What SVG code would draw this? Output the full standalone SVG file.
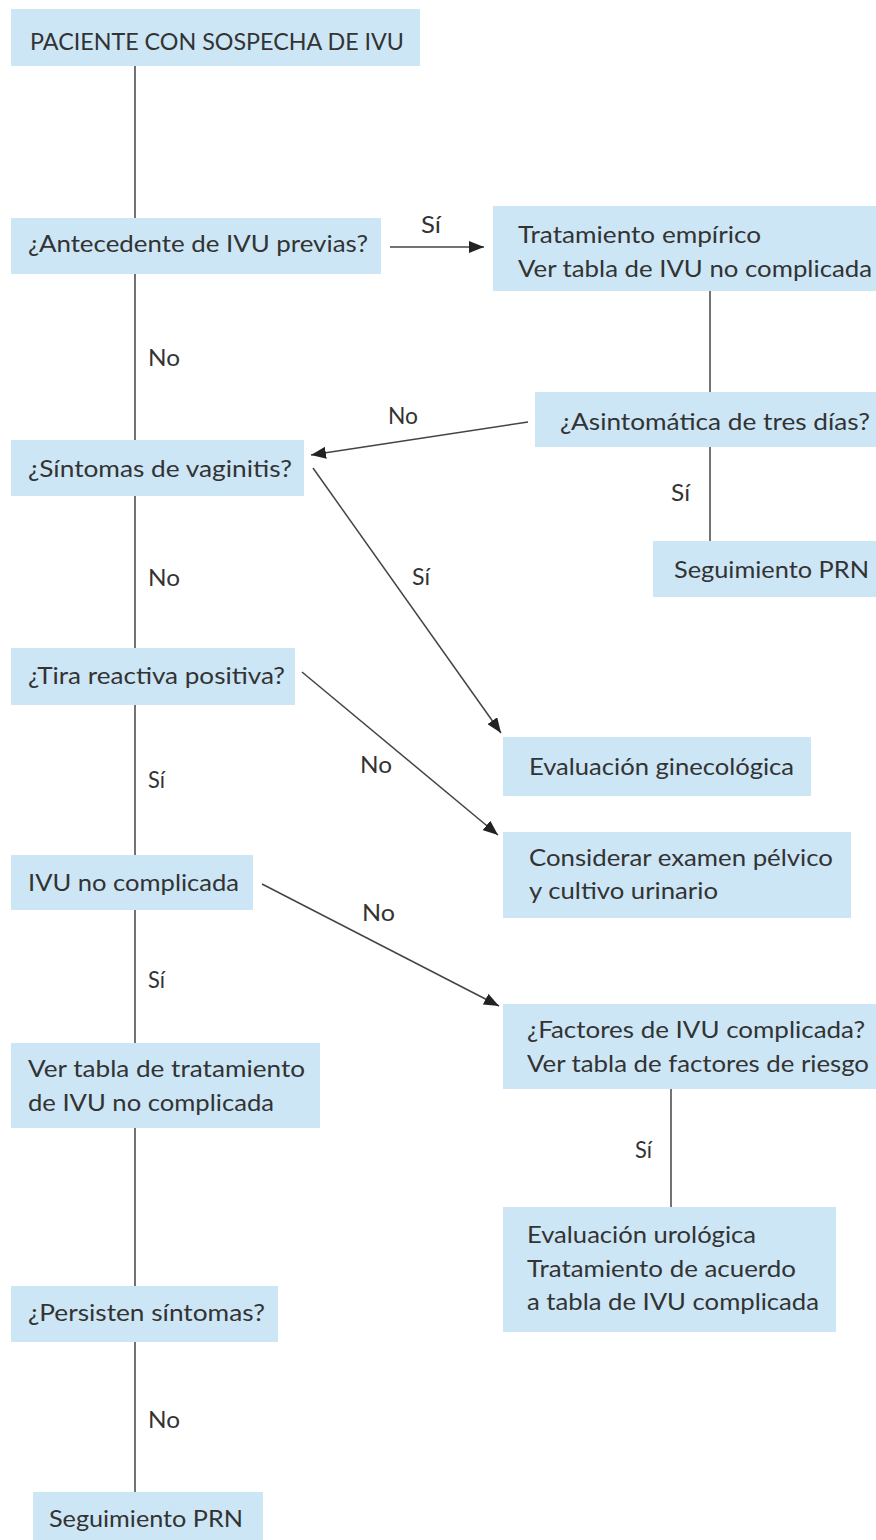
<svg xmlns="http://www.w3.org/2000/svg" width="876" height="1540" viewBox="0 0 876 1540">
<defs>
<style>
.box{fill:#cce6f6;}
.t{font-family:Lato,"Open Sans","Liberation Sans",sans-serif;font-size:23px;fill:#333;}
.ln{stroke:#444;stroke-width:1.5;fill:none;}
</style>
<marker id="ah" markerUnits="userSpaceOnUse" markerWidth="16" markerHeight="12" refX="15" refY="6" orient="auto">
<path d="M0,0 L15,6 L0,12 Z" fill="#222"/>
</marker>
</defs>
<rect width="876" height="1540" fill="#fff"/>
<g id="connectors">
<line class="ln" x1="135" y1="66" x2="135" y2="218"/>
<line class="ln" x1="135" y1="274" x2="135" y2="440"/>
<line class="ln" x1="135" y1="496" x2="135" y2="648"/>
<line class="ln" x1="135" y1="705" x2="135" y2="855"/>
<line class="ln" x1="135" y1="910" x2="135" y2="1043"/>
<line class="ln" x1="135" y1="1128" x2="135" y2="1286"/>
<line class="ln" x1="135" y1="1342" x2="135" y2="1492"/>
<line class="ln" x1="710" y1="291" x2="710" y2="392"/>
<line class="ln" x1="710" y1="447" x2="710" y2="541"/>
<line class="ln" x1="671" y1="1089" x2="671" y2="1207"/>
<line class="ln" x1="390" y1="247" x2="484" y2="247" marker-end="url(#ah)"/>
<line class="ln" x1="528" y1="422" x2="311" y2="455" marker-end="url(#ah)"/>
<line class="ln" x1="313" y1="468" x2="501" y2="733" marker-end="url(#ah)"/>
<line class="ln" x1="302" y1="672" x2="498" y2="835" marker-end="url(#ah)"/>
<line class="ln" x1="262" y1="884" x2="499" y2="1006" marker-end="url(#ah)"/>
<text class="t" x="421" y="233" textLength="20" lengthAdjust="spacingAndGlyphs">Sí</text>
<text class="t" x="148" y="366" textLength="32" lengthAdjust="spacingAndGlyphs">No</text>
<text class="t" x="388" y="424" textLength="30" lengthAdjust="spacingAndGlyphs">No</text>
<text class="t" x="671" y="501" textLength="19" lengthAdjust="spacingAndGlyphs">Sí</text>
<text class="t" x="148" y="586" textLength="32" lengthAdjust="spacingAndGlyphs">No</text>
<text class="t" x="412" y="585" textLength="18" lengthAdjust="spacingAndGlyphs">Sí</text>
<text class="t" x="360" y="773" textLength="32" lengthAdjust="spacingAndGlyphs">No</text>
<text class="t" x="148" y="788" textLength="17" lengthAdjust="spacingAndGlyphs">Sí</text>
<text class="t" x="362" y="921" textLength="33" lengthAdjust="spacingAndGlyphs">No</text>
<text class="t" x="148" y="988" textLength="17" lengthAdjust="spacingAndGlyphs">Sí</text>
<text class="t" x="635" y="1158" textLength="17" lengthAdjust="spacingAndGlyphs">Sí</text>
<text class="t" x="148" y="1428" textLength="32" lengthAdjust="spacingAndGlyphs">No</text>
</g>
<g id="n1"><rect class="box" x="11" y="9" width="409" height="57"/>
<text class="t" x="30" y="50" textLength="374" lengthAdjust="spacingAndGlyphs">PACIENTE CON SOSPECHA DE IVU</text></g>
<g id="n2"><rect class="box" x="11" y="218" width="370" height="56"/>
<text class="t" x="28" y="252" textLength="340" lengthAdjust="spacingAndGlyphs">¿Antecedente de IVU previas?</text></g>
<g id="n3"><rect class="box" x="493" y="206" width="383" height="85"/>
<text class="t" x="518" y="243" textLength="243" lengthAdjust="spacingAndGlyphs">Tratamiento empírico</text>
<text class="t" x="518" y="277" textLength="354" lengthAdjust="spacingAndGlyphs">Ver tabla de IVU no complicada</text></g>
<g id="n4"><rect class="box" x="535" y="392" width="341" height="55"/>
<text class="t" x="560" y="430" textLength="310" lengthAdjust="spacingAndGlyphs">¿Asintomática de tres días?</text></g>
<g id="n5"><rect class="box" x="653" y="541" width="223" height="56"/>
<text class="t" x="674" y="578" textLength="195" lengthAdjust="spacingAndGlyphs">Seguimiento PRN</text></g>
<g id="n6"><rect class="box" x="11" y="440" width="293" height="56"/>
<text class="t" x="28" y="477" textLength="264" lengthAdjust="spacingAndGlyphs">¿Síntomas de vaginitis?</text></g>
<g id="n7"><rect class="box" x="11" y="648" width="284" height="57"/>
<text class="t" x="28" y="684" textLength="257" lengthAdjust="spacingAndGlyphs">¿Tira reactiva positiva?</text></g>
<g id="n8"><rect class="box" x="503" y="737" width="308" height="59"/>
<text class="t" x="529" y="775" textLength="265" lengthAdjust="spacingAndGlyphs">Evaluación ginecológica</text></g>
<g id="n9"><rect class="box" x="503" y="832" width="348" height="86"/>
<text class="t" x="529" y="866" textLength="304" lengthAdjust="spacingAndGlyphs">Considerar examen pélvico</text>
<text class="t" x="529" y="899" textLength="189" lengthAdjust="spacingAndGlyphs">y cultivo urinario</text></g>
<g id="n10"><rect class="box" x="11" y="855" width="242" height="55"/>
<text class="t" x="28" y="891" textLength="211" lengthAdjust="spacingAndGlyphs">IVU no complicada</text></g>
<g id="n11"><rect class="box" x="503" y="1004" width="373" height="85"/>
<text class="t" x="527" y="1038" textLength="338" lengthAdjust="spacingAndGlyphs">¿Factores de IVU complicada?</text>
<text class="t" x="527" y="1072" textLength="342" lengthAdjust="spacingAndGlyphs">Ver tabla de factores de riesgo</text></g>
<g id="n12"><rect class="box" x="11" y="1043" width="309" height="85"/>
<text class="t" x="28" y="1077" textLength="277" lengthAdjust="spacingAndGlyphs">Ver tabla de tratamiento</text>
<text class="t" x="28" y="1111" textLength="246" lengthAdjust="spacingAndGlyphs">de IVU no complicada</text></g>
<g id="n13"><rect class="box" x="503" y="1207" width="333" height="125"/>
<text class="t" x="527" y="1243" textLength="229" lengthAdjust="spacingAndGlyphs">Evaluación urológica</text>
<text class="t" x="527" y="1277" textLength="269" lengthAdjust="spacingAndGlyphs">Tratamiento de acuerdo</text>
<text class="t" x="527" y="1310" textLength="292" lengthAdjust="spacingAndGlyphs">a tabla de IVU complicada</text></g>
<g id="n14"><rect class="box" x="11" y="1286" width="267" height="56"/>
<text class="t" x="28" y="1321" textLength="237" lengthAdjust="spacingAndGlyphs">¿Persisten síntomas?</text></g>
<g id="n15"><rect class="box" x="33" y="1492" width="230" height="48"/>
<text class="t" x="49" y="1527" textLength="194" lengthAdjust="spacingAndGlyphs">Seguimiento PRN</text></g>
</svg>
